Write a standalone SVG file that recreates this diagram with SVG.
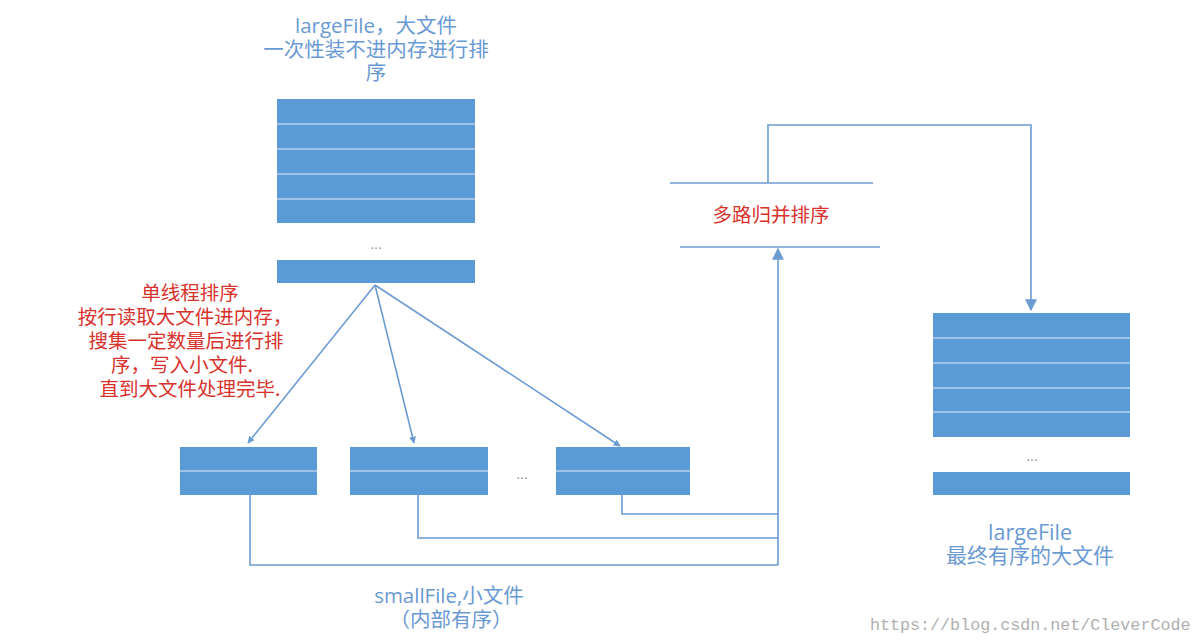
<svg xmlns="http://www.w3.org/2000/svg" width="1202" height="643" viewBox="0 0 1202 643">
<defs>
<style>
.blk{fill:#5b9bd5;}
.sep{stroke:#b5d0ee;stroke-width:1.5;}
.con{fill:none;stroke:#6c9bd2;stroke-width:1.6;}
.bt{font-family:"Open Sans","Noto Sans CJK SC",sans-serif;font-size:20.5px;fill:#6a9ad3;text-anchor:middle;}
.rt{font-family:"Noto Sans CJK SC",sans-serif;font-size:19.5px;fill:#d8322c;text-anchor:middle;}
.dots{font-family:"Liberation Sans",sans-serif;font-size:14px;fill:#8a8a8a;text-anchor:middle;}
.wm{font-family:"Liberation Mono","Noto Sans CJK SC",monospace;font-size:16.7px;fill:#b0b0b0;}
</style>
<marker id="ah" viewBox="0 0 10 10" refX="9" refY="5" markerWidth="7" markerHeight="7" orient="auto" markerUnits="userSpaceOnUse" >
<path d="M0,0 L10,5 L0,10 z" fill="#6c9bd2"/>
</marker>
<marker id="ah2" viewBox="0 0 10 10" refX="9" refY="5" markerWidth="12" markerHeight="12" orient="auto" markerUnits="userSpaceOnUse">
<path d="M0,0 L10,5 L0,10 z" fill="#6c9bd2"/>
</marker>
</defs>
<rect width="1202" height="643" fill="#ffffff"/>

<g id="largeFile-in">
<text class="bt" x="376" y="33">largeFile，大文件</text>
<text class="bt" x="376" y="57">一次性装不进内存进行排</text>
<text class="bt" x="376" y="80">序</text>
<rect class="blk" x="277" y="99" width="198" height="124"/>
<line class="sep" x1="277" y1="124" x2="475" y2="124"/>
<line class="sep" x1="277" y1="149" x2="475" y2="149"/>
<line class="sep" x1="277" y1="174" x2="475" y2="174"/>
<line class="sep" x1="277" y1="199" x2="475" y2="199"/>
<text class="dots" x="376" y="249">...</text>
<rect class="blk" x="277" y="260" width="198" height="23"/>
</g>

<g id="sort-note">
<text class="rt" x="190" y="300">单线程排序</text>
<text class="rt" x="185" y="324">按行读取大文件进内存，</text>
<text class="rt" x="186" y="348">搜集一定数量后进行排</text>
<text class="rt" x="182" y="372">序，写入小文件.</text>
<text class="rt" x="190" y="396">直到大文件处理完毕.</text>
</g>

<g id="small1">
<rect class="blk" x="180" y="447" width="137" height="48"/>
<line class="sep" x1="180" y1="471" x2="317" y2="471"/>
</g>
<g id="small2">
<rect class="blk" x="350" y="447" width="138" height="48"/>
<line class="sep" x1="350" y1="471" x2="488" y2="471"/>
</g>
<text class="dots" x="522" y="479">...</text>
<g id="small3">
<rect class="blk" x="556" y="447" width="134" height="48"/>
<line class="sep" x1="556" y1="471" x2="690" y2="471"/>
</g>
<g id="small-label">
<text class="bt" x="449" y="603">smallFile,小文件</text>
<text class="bt" x="451" y="627">（内部有序）</text>
</g>

<g id="merge">
<line class="con" x1="670" y1="183" x2="873" y2="183"/>
<line class="con" x1="680" y1="247" x2="880" y2="247"/>
<text class="rt" x="771" y="222">多路归并排序</text>
</g>

<g id="largeFile-out">
<rect class="blk" x="933" y="313" width="197" height="124"/>
<line class="sep" x1="933" y1="338" x2="1130" y2="338"/>
<line class="sep" x1="933" y1="363" x2="1130" y2="363"/>
<line class="sep" x1="933" y1="388" x2="1130" y2="388"/>
<line class="sep" x1="933" y1="412" x2="1130" y2="412"/>
<text class="dots" x="1032" y="461">...</text>
<rect class="blk" x="933" y="472" width="197" height="23"/>
<text class="bt" x="1030" y="540" style="font-size:21.5px">largeFile</text>
<text class="bt" x="1030" y="563" style="font-size:21px">最终有序的大文件</text>
</g>

<g id="connectors">
<line class="con" x1="375" y1="285" x2="248" y2="443" marker-end="url(#ah)"/>
<line class="con" x1="375" y1="285" x2="414" y2="443" marker-end="url(#ah)"/>
<line class="con" x1="375" y1="285" x2="620" y2="446" marker-end="url(#ah)"/>
<path class="con" d="M250,495 L250,565 L778,565"/>
<path class="con" d="M418,495 L418,538 L778,538"/>
<path class="con" d="M622,495 L622,514 L778,514"/>
<line class="con" x1="778" y1="565" x2="778" y2="249" marker-end="url(#ah2)"/>
<path class="con" d="M768,183 L768,125 L1031,125 L1031,310" marker-end="url(#ah2)"/>
</g>

<text class="wm" x="870" y="630">https://blog.csdn.net/CleverCode</text>
</svg>
